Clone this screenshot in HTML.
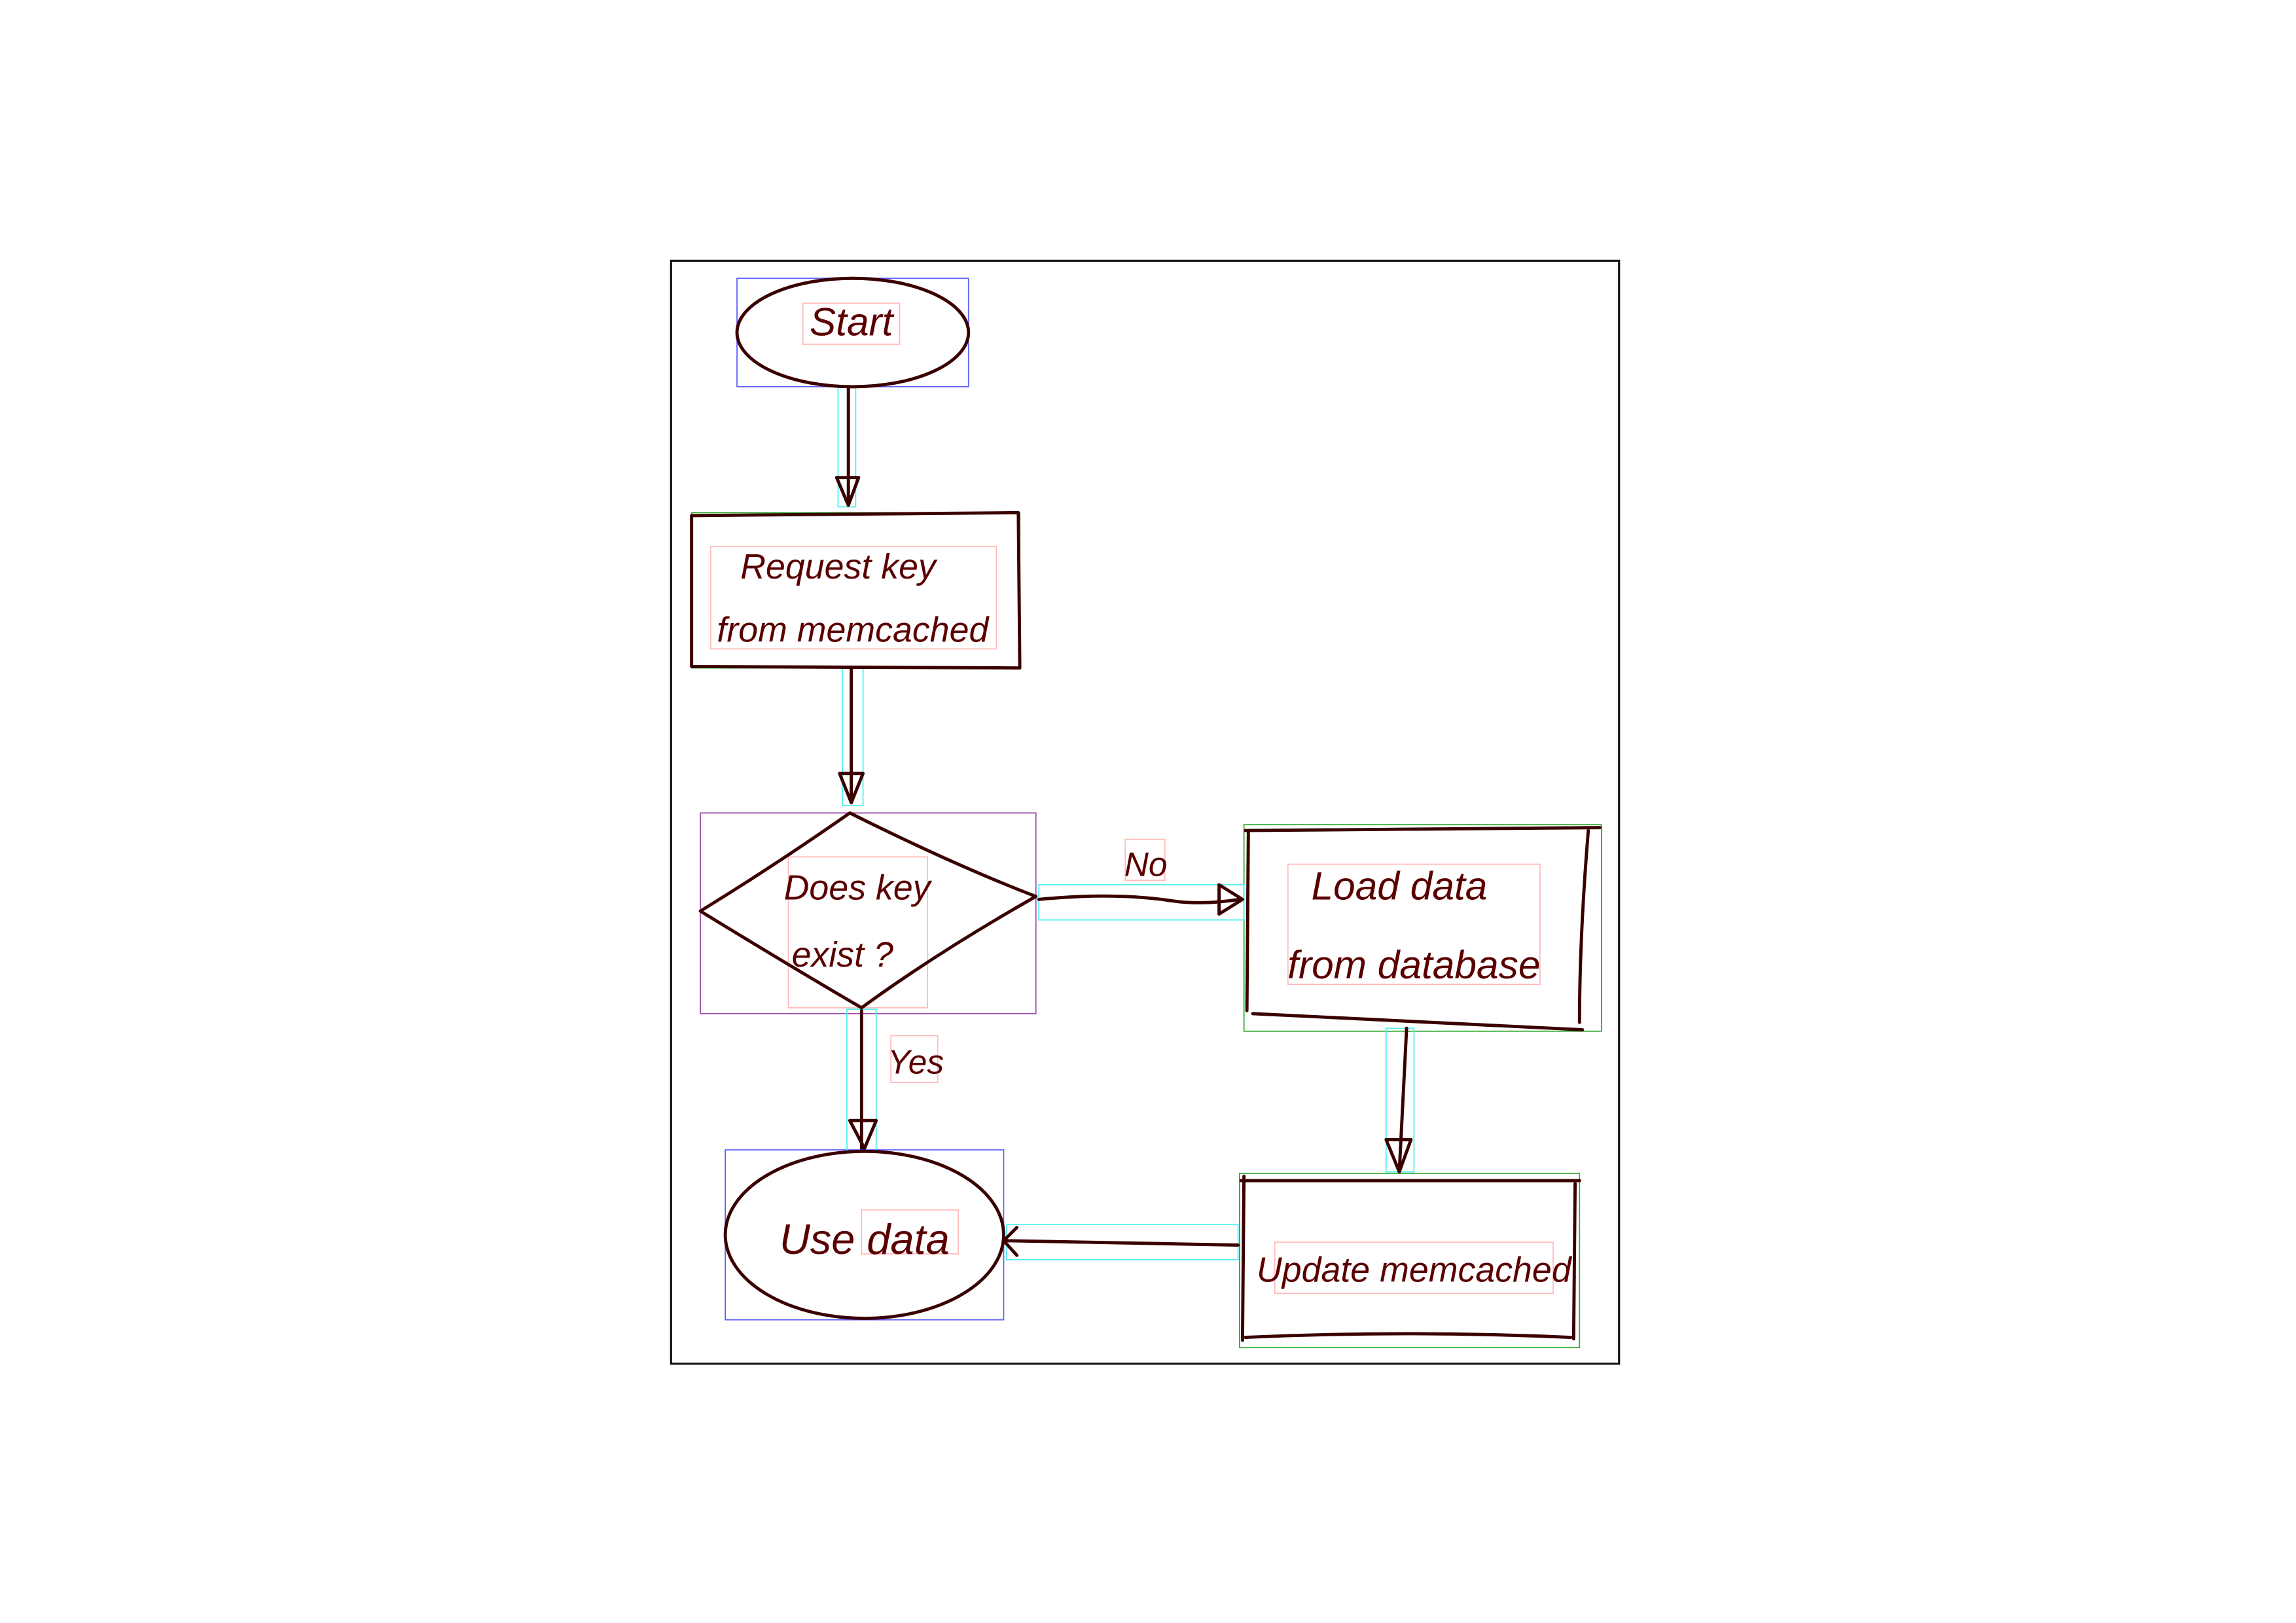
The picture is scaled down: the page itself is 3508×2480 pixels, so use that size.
<!DOCTYPE html>
<html><head><meta charset="utf-8"><style>
html,body{margin:0;padding:0;background:#fff;}
svg{display:block;}
text{font-family:"Liberation Sans",sans-serif;fill:#5a0000;font-style:italic;}
</style></head><body>
<svg width="3508" height="2480" viewBox="0 0 1567 1108" preserveAspectRatio="none" xmlns="http://www.w3.org/2000/svg">
<rect x="458" y="178" width="647" height="753" fill="none" stroke="#111" stroke-width="1.4"/>
<g fill="none" stroke-width="0.8">
<rect x="503" y="190" width="158" height="74" stroke="#6060ff"/>
<rect x="472" y="350" width="224" height="106" stroke="#3a3"/>
<rect x="478" y="555" width="229" height="137" stroke="#a050b0"/>
<rect x="849" y="563" width="244" height="141" stroke="#3a3"/>
<rect x="495" y="785" width="190" height="116" stroke="#6060ff"/>
<rect x="846" y="801" width="232" height="119" stroke="#3a3"/>
<g stroke="#5ee">
<rect x="572" y="264" width="12" height="82"/>
<rect x="575" y="456" width="14" height="94"/>
<rect x="709" y="604" width="140" height="24"/>
<rect x="578" y="689" width="20" height="97"/>
<rect x="946" y="702" width="19" height="98"/>
<rect x="687" y="836" width="158" height="24"/>
</g>
<g stroke="#fbb">
<rect x="548" y="207" width="66" height="28"/>
<rect x="485" y="373" width="195" height="70"/>
<rect x="538" y="585" width="95" height="103"/>
<rect x="768" y="573" width="27" height="28"/>
<rect x="608" y="707" width="32" height="32"/>
<rect x="879" y="590" width="172" height="82"/>
<rect x="588" y="826" width="66" height="30"/>
<rect x="870" y="848" width="190" height="35"/>
</g>
</g>
<g fill="none" stroke="#3a0000" stroke-width="2.2" stroke-linejoin="round" stroke-linecap="round">
<ellipse cx="582" cy="227" rx="79" ry="37"/>
<path d="M472 352 L695 350 L696 456 L472 455 Z"/>
<path d="M580 555 Q650 590 707 612 Q640 650 588 688 Q540 660 478 622 Q530 590 580 555 Z"/>
<path d="M850 567 L1092 565 M1084 567 Q1078 640 1078 698 M852 567 L851 690 M855 692 L1080 703"/>
<ellipse cx="590" cy="843" rx="95" ry="57"/>
<path d="M847 806 L1078 806 M849 803 L848 915 M1075 808 L1074 914 M850 913 Q960 908 1072 913"/>
<path d="M579 264 L579 345 M571 326 L579 345 L586 326 Z"/>
<path d="M581 456 L581 548 M573 528 L581 548 L589 528 Z"/>
<path d="M709 614 Q760 609 800 615 Q820 618 846 614 M832 604 L848 614 L832 624 Z"/>
<path d="M588 690 L588 784 M580 765 L590 784 L598 765 Z"/>
<path d="M960 702 L955 800 M946 778 L955 800 L963 778 Z"/>
<path d="M845 850 L687 847 M694 838 L685 847 L694 857"/>
</g>
<text x="581" y="229" font-size="27" text-anchor="middle">Start</text>
<text x="572" y="395" font-size="24" text-anchor="middle">Request  key</text>
<text x="582" y="438" font-size="24" text-anchor="middle">from  memcached</text>
<text x="585" y="614" font-size="24" text-anchor="middle">Does  key</text>
<text x="575" y="660" font-size="24" text-anchor="middle">exist ?</text>
<text x="782" y="598" font-size="23" text-anchor="middle">No</text>
<text x="625" y="733" font-size="23" text-anchor="middle">Yes</text>
<text x="955" y="614" font-size="27" text-anchor="middle">Load   data</text>
<text x="965" y="668" font-size="27" text-anchor="middle">from  database</text>
<text x="590" y="856" font-size="29" text-anchor="middle">Use  data</text>
<text x="965" y="875" font-size="24" text-anchor="middle">Update  memcached</text>
</svg>
</body></html>
